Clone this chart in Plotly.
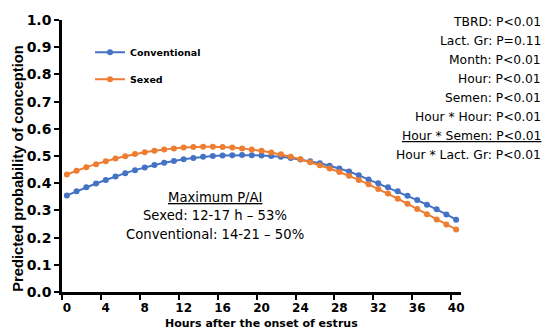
import plotly.graph_objects as go

hours = list(range(0, 41))
conventional = [0.355, 0.370, 0.385, 0.399, 0.412, 0.425, 0.437, 0.448, 0.458, 0.467,
                0.475, 0.482, 0.488, 0.493, 0.497, 0.500, 0.502, 0.503, 0.504, 0.503,
                0.502, 0.500, 0.497, 0.493, 0.487, 0.481, 0.473, 0.464, 0.454, 0.443,
                0.429, 0.414, 0.400, 0.385, 0.370, 0.354, 0.338, 0.321, 0.304, 0.285,
                0.266]
sexed = [0.432, 0.446, 0.459, 0.470, 0.481, 0.491, 0.499, 0.507, 0.514, 0.519,
         0.524, 0.528, 0.531, 0.533, 0.534, 0.534, 0.533, 0.531, 0.528, 0.524,
         0.519, 0.513, 0.506, 0.497, 0.488, 0.477, 0.466, 0.454, 0.441, 0.427,
         0.412, 0.396, 0.379, 0.362, 0.343, 0.324, 0.305, 0.286, 0.267, 0.248,
         0.230]
x_tick_vals = [0, 4, 8, 12, 16, 20, 24, 28, 32, 36, 40]
y_tick_vals = [0.0, 0.1, 0.2, 0.3, 0.4, 0.5, 0.6, 0.7, 0.8, 0.9, 1.0]
stats_lines = ["TBRD: P<0.01", "Lact. Gr: P=0.11", "Month: P<0.01", "Hour: P<0.01",
               "Semen: P<0.01", "Hour * Hour: P<0.01", "<u>Hour * Semen: P<0.01</u>",
               "Hour * Lact. Gr: P<0.01"]
max_lines = ["<u>Maximum P/AI</u>", "Sexed: 12-17 h \u2013 53%", "Conventional: 14-21 \u2013 50%"]

BLUE = "#4472C4"
ORANGE = "#ED7D31"
BOLD = "DejaVu Sans"

W, H = 546, 333
L, R, T, B = 62, 85, 15, 41
PW, PH = W - L - R, H - T - B

def px_x(p):
    return (p - L) / PW

def px_y(p):
    return (H - B - p) / PH

fig = go.Figure()
fig.add_trace(go.Scatter(x=hours, y=conventional, name="Conventional", mode="lines+markers",
                         line=dict(color=BLUE, width=2), marker=dict(color=BLUE, size=6),
                         legendgroup="c"))
fig.add_trace(go.Scatter(x=hours, y=sexed, name="Sexed", mode="lines+markers",
                         line=dict(color=ORANGE, width=2), marker=dict(color=ORANGE, size=6),
                         legendgroup="s"))

annotations = []
for i, t in enumerate(stats_lines):
    annotations.append(dict(text=t, xref="paper", yref="paper", x=px_x(543), y=px_y(17 + 19.4 * i),
                            xanchor="right", yanchor="middle", showarrow=False,
                            font=dict(family="DejaVu Sans", size=12.3, color="black")))
for i, t in enumerate(max_lines):
    annotations.append(dict(text=t, xref="paper", yref="paper", x=px_x(215), y=px_y(195.5 + 19 * i),
                            xanchor="center", yanchor="middle", showarrow=False,
                            font=dict(family="DejaVu Sans", size=13.2, color="black")))
annotations.append(dict(text="<b>Predicted probability of conception</b>", xref="paper", yref="paper",
                        x=px_x(18), y=px_y(166.5), xanchor="center", yanchor="middle", textangle=-90,
                        showarrow=False, font=dict(family="Liberation Sans", size=14.7, color="black")))
annotations.append(dict(text="<b>Hours after the onset of estrus</b>", xref="paper", yref="paper",
                        x=0.5, y=px_y(324), xanchor="center", yanchor="middle",
                        showarrow=False, font=dict(family=BOLD, size=11, color="black")))

fig.update_layout(
    width=W, height=H,
    margin=dict(l=L, r=R, t=T, b=B, pad=0),
    paper_bgcolor="white", plot_bgcolor="white",
    showlegend=True,
    legend=dict(x=px_x(90), y=px_y(33), xanchor="left", yanchor="top",
                font=dict(family=BOLD, size=9.5, color="black", weight="bold"),
                bgcolor="rgba(0,0,0,0)", tracegroupgap=8, itemwidth=30),
    annotations=annotations,
    xaxis=dict(range=[-0.5, 40.5], tickmode="array", tickvals=x_tick_vals,
               ticktext=[str(v) for v in x_tick_vals], ticks="", showgrid=False, zeroline=False,
               showline=True, linecolor="black", linewidth=2.5, ticklabelstandoff=3,
               tickfont=dict(family=BOLD, size=12, color="black", weight="bold"),
               minor=dict(ticks="outside", tick0=-0.5, dtick=4, ticklen=5, tickwidth=2,
                          tickcolor="black", showgrid=False)),
    yaxis=dict(range=[0, 1], tickmode="array", tickvals=y_tick_vals,
               ticktext=["%.1f" % v for v in y_tick_vals], ticks="outside", ticklen=5, tickwidth=2,
               tickcolor="black", showgrid=False, zeroline=False, showline=True, linecolor="black",
               linewidth=2.5, tickfont=dict(family=BOLD, size=14, color="black", weight="bold")),
)

fig.write_html("out.html")
